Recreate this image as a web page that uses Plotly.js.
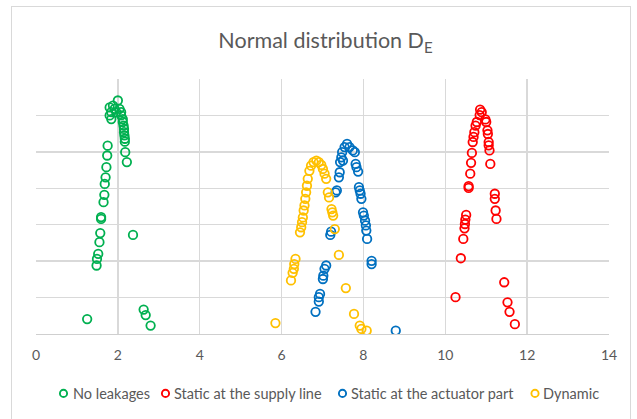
<!DOCTYPE html>
<html>
<head>
<meta charset="utf-8">
<script src="https://cdn.plot.ly/plotly-3.0.1.min.js"></script>
<style>
  html, body { margin: 0; padding: 0; background: #ffffff; overflow: hidden; }
  #frame { position: absolute; left: 11px; top: 6px; width: 620px; height: 430px; border: 1.5px solid #d9d9d9; box-sizing: border-box; }
  #chart { position: absolute; left: 0; top: 0; width: 637px; height: 419px; }
</style>
</head>
<body>
<div id="frame"></div>
<div id="chart"></div>
<script>
// No leakages
const greenX = [2.00,1.88,1.80,1.92,2.04,1.84,1.96,2.08,1.80,1.84,2.08,2.12,2.12,2.14,2.15,2.15,2.16,2.17,2.17,2.18,2.22,1.75,1.74,1.72,1.70,1.68,1.67,1.65,1.59,1.59,1.57,1.55,1.52,1.49,1.48,2.37,1.25,2.63,2.68,2.80];
const greenY = [0.641,0.627,0.622,0.618,0.618,0.609,0.609,0.609,0.600,0.590,0.600,0.590,0.582,0.572,0.563,0.554,0.545,0.536,0.528,0.499,0.472,0.517,0.490,0.458,0.430,0.412,0.382,0.362,0.321,0.316,0.277,0.252,0.220,0.206,0.188,0.272,0.041,0.067,0.052,0.023];

// Static at the supply line
const redX = [10.85,10.89,10.84,10.98,10.77,10.74,11.00,11.03,11.04,10.71,10.69,10.67,11.06,11.06,11.08,10.65,10.63,11.10,10.61,10.57,10.57,11.21,11.21,11.23,11.25,10.51,10.49,10.48,10.47,10.44,10.38,10.25,11.44,11.52,11.57,11.70];
const redY = [0.616,0.609,0.601,0.589,0.582,0.572,0.582,0.559,0.549,0.554,0.541,0.527,0.527,0.518,0.504,0.497,0.470,0.467,0.440,0.406,0.401,0.385,0.371,0.339,0.316,0.327,0.314,0.302,0.290,0.261,0.208,0.101,0.142,0.087,0.061,0.027];

// Static at the actuator part
const blueX = [7.60,7.54,7.66,7.74,7.48,7.79,7.46,7.43,7.50,7.81,7.83,7.87,7.42,7.40,7.89,7.91,7.93,7.95,7.35,7.32,7.99,8.01,8.04,8.06,8.07,8.09,7.21,7.19,8.20,8.20,7.09,7.05,7.02,7.01,6.94,6.91,6.91,6.83,8.79];
const blueY = [0.522,0.513,0.513,0.504,0.499,0.499,0.485,0.472,0.476,0.467,0.458,0.446,0.444,0.430,0.403,0.394,0.385,0.371,0.394,0.389,0.334,0.325,0.311,0.298,0.284,0.261,0.281,0.272,0.201,0.192,0.188,0.179,0.160,0.151,0.110,0.101,0.089,0.061,0.009];

// Dynamic
const yellowX = [6.85,6.78,6.91,6.72,6.97,7.01,6.68,7.05,7.09,6.64,6.62,7.13,7.16,6.60,6.58,6.56,6.54,6.52,6.50,6.48,6.45,7.22,7.24,7.26,7.30,6.34,6.31,6.30,6.27,6.23,7.40,7.57,5.85,7.77,7.91,7.95,8.08];
const yellowY = [0.476,0.472,0.472,0.462,0.464,0.453,0.448,0.440,0.426,0.426,0.407,0.389,0.375,0.389,0.371,0.353,0.339,0.320,0.307,0.293,0.279,0.343,0.334,0.325,0.288,0.206,0.192,0.179,0.168,0.147,0.217,0.126,0.030,0.055,0.023,0.014,0.009];

const seriesNames = ['No leakages', 'Static at the supply line', 'Static at the actuator part', 'Dynamic'];
const seriesColors = ['#00b050', '#ff0000', '#0070c0', '#ffc000'];
const xTickVals = [0, 2, 4, 6, 8, 10, 12, 14];
const xTickText = ['0', '2', '4', '6', '8', '10', '12', '14'];

const xs = [greenX, redX, blueX, yellowX];
const ys = [greenY, redY, blueY, yellowY];

const traces = xs.map((x, i) => ({
  type: 'scatter',
  mode: 'markers',
  name: seriesNames[i],
  x: x,
  y: ys[i],
  showlegend: false,
  marker: { symbol: 'circle-open', size: 8.5, color: seriesColors[i], line: { color: seriesColors[i], width: 1.8 } },
  hoverinfo: 'x+y'
}));

// Legend (Excel-style compact: small circle right before each label)
const W = 637, H = 419;
const M = { l: 36, r: 28, t: 79, b: 84.5 };
const plotW = W - M.l - M.r, plotH = H - M.t - M.b;
const legendMarkerPx = [63.5, 165.5, 342.5, 535];
const legendTextPx = [71, 172, 349, 541];
const legendYPx = 394;
const toPaperX = px => (px - M.l) / plotW;
const legendY = (H - M.b - legendYPx) / plotH;

const shapes = seriesColors.map((c, i) => ({
  type: 'circle',
  xref: 'paper', yref: 'paper',
  xsizemode: 'pixel', ysizemode: 'pixel',
  xanchor: toPaperX(legendMarkerPx[i]), yanchor: legendY,
  x0: -3.6, x1: 3.6, y0: -3.6, y1: 3.6,
  line: { color: c, width: 1.9 },
  fillcolor: 'rgba(0,0,0,0)',
  layer: 'above'
}));

const annotations = seriesNames.map((n, i) => ({
  text: n,
  xref: 'paper', yref: 'paper',
  x: toPaperX(legendTextPx[i]), y: legendY,
  xanchor: 'left', yanchor: 'middle',
  showarrow: false,
  font: { family: 'Lato, sans-serif', size: 14.5, color: '#595959' }
}));

const layout = {
  width: W,
  height: H,
  paper_bgcolor: 'rgba(0,0,0,0)',
  plot_bgcolor: '#ffffff',
  margin: { l: M.l, r: M.r, t: M.t, b: M.b, autoexpand: false },
  font: { family: 'Lato, "Open Sans", sans-serif', color: '#595959' },
  title: {
    text: 'Normal distribution D<sub>E</sub>',
    font: { family: 'Lato, sans-serif', size: 21.5, color: '#595959' },
    x: 0.511, xref: 'container', xanchor: 'center',
    y: 0.903, yref: 'container', yanchor: 'middle'
  },
  xaxis: {
    range: [0, 14],
    tickvals: xTickVals,
    ticktext: xTickText,
    showgrid: true,
    gridcolor: '#d9d9d9',
    gridwidth: 1.3,
    zeroline: false,
    showline: true,
    linecolor: '#cfcfcf',
    linewidth: 1.3,
    ticks: '',
    ticklabelstandoff: 8,
    tickfont: { family: 'Lato, sans-serif', size: 14, color: '#595959' },
    fixedrange: true
  },
  yaxis: {
    range: [0, 0.7],
    dtick: 0.1,
    showgrid: true,
    gridcolor: '#d9d9d9',
    gridwidth: 1.3,
    zeroline: false,
    showline: false,
    showticklabels: false,
    ticks: '',
    fixedrange: true
  },
  showlegend: false,
  shapes: shapes,
  annotations: annotations
};

Plotly.newPlot('chart', traces, layout, { displayModeBar: false, staticPlot: true });
</script>
</body>
</html>
